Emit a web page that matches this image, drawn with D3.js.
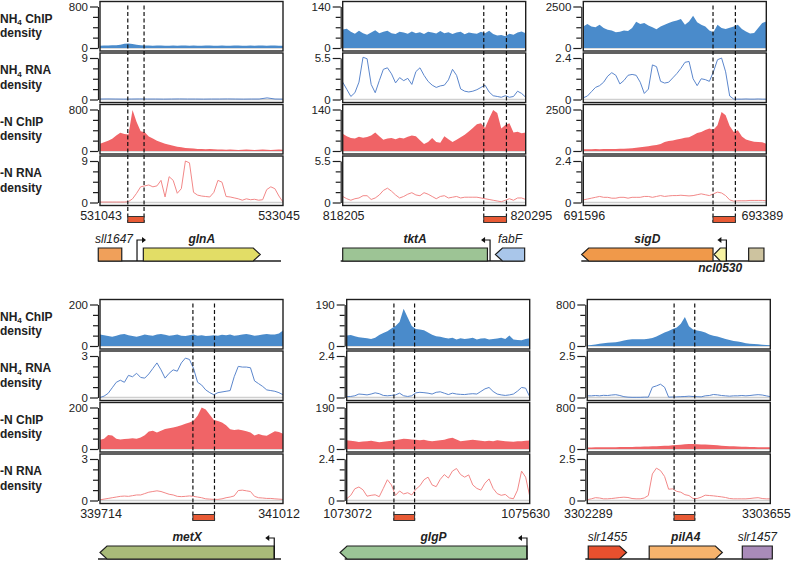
<!DOCTYPE html>
<html>
<head>
<meta charset="utf-8">
<script src="https://cdn.jsdelivr.net/npm/d3@7"></script>
<style>
  body { margin: 0; background: #fff; }
  svg text { font-family: Arial, "Liberation Sans", sans-serif; }
</style>
</head>
<body>
<div id="chart"></div>
<script>
// regions (genomic window, ChIP peak, axis maxima)
var regionNames = ["glnA", "tktA", "sigD", "metX", "glgP", "pilA4"];
var regionStart = [531043, 818205, 691596, 339714, 1073072, 3302289];
var regionEnd = [533045, 820295, 693389, 341012, 1075630, 3303655];
var peakStart = [531347, 819816, 692867, 340373, 1073732, 3302937];
var peakEnd = [531525, 820075, 693086, 340526, 1074021, 3303091];
var chipMax = [800, 140, 2500, 200, 190, 800];
var rnaMax = [9, 5.5, 2.4, 3, 2.4, 2.5];
var trackLabels = ["NH4 ChIP", "NH4 RNA", "-N ChIP", "-N RNA"];

// densities, evenly spaced across each window
var glnA_nh4Chip = [45,48,50,52,55,65,80,85,78,65,55,50,48,45,50,48,42,45,48,45,50,46,44,48,45,42,46,48,45,44,47,45,43,46,48,44,45,47,44,46,48,45,47,46,45,44];
var glnA_nh4Rna = [0.1,0.12,0.1,0.08,0.1,0.12,0.1,0.1,0.08,0.1,0.12,0.1,0.1,0.08,0.1,0.1,0.12,0.1,0.08,0.1,0.1,0.35,0.1,0.08];
var glnA_nChip = [140,170,200,235,300,350,330,320,790,560,380,360,280,240,200,170,140,120,100,80,70,60,55,50,40,40,35,40,35,30,30,25,30,25,20,25,30,25,20,25,30,25,20,25,30,25];
var glnA_nRna = [0.1,0.1,0.1,0.1,0.1,0.1,0.1,0.2,0.8,2.0,3.4,3.6,3.8,3.4,3.6,4.8,1.2,5.6,4.8,2.0,3.0,9.0,8.6,2.2,1.6,1.4,1.3,1.2,2.2,4.8,4.4,1.3,1.2,1.0,0.8,0.5,0.8,0.6,0.7,0.5,0.6,2.8,3.4,3.0,1.4,0.1];

var tktA_nh4Chip = [62,65,55,48,58,50,45,52,60,50,55,58,50,47,55,52,48,56,50,53,47,55,52,49,57,50,53,47,52,55,46,52,50,48,55,50,58,47,42,44,40,48,45,52,56,50];
var tktA_nh4Rna = [2.3,1.35,0.4,0.9,2.3,5.6,5.4,2.0,0.9,2.5,4.0,4.2,3.4,2.2,2.9,2.5,2.8,2.0,3.7,4.2,3.2,2.4,1.9,1.6,1.8,1.9,2.6,4.0,3.2,1.4,1.1,1.0,1.1,1.3,1.6,1.9,1.0,0.5,0.4,0.3,0.5,0.3,0.4,1.1,0.8,0.3];
var tktA_nChip = [58,50,44,42,48,45,47,52,62,50,38,42,44,40,45,42,48,52,50,36,24,30,44,30,28,50,40,30,38,46,55,66,78,90,94,78,110,138,128,76,88,94,62,65,60,62];
var tktA_nRna = [0.8,0.5,0.3,0.5,0.6,0.9,0.9,0.4,0.6,1.0,1.6,1.9,1.5,1.0,0.6,0.8,1.1,1.3,1.0,0.9,1.3,1.1,0.8,0.5,0.8,0.9,0.6,0.7,0.8,0.6,0.7,0.7,0.7,0.7,0.6,0.5,0.4,0.3,0.2,0.1,0.3,0.5,0.3,0.6,0.6,0.4];

var sigD_nh4Chip = [1300,1450,1300,1250,1400,1200,1100,1050,950,980,1050,1020,1200,1580,1450,1500,1350,1250,1130,1300,1400,1500,1600,1650,1750,1400,1600,1950,1550,1400,1300,1050,950,1400,1200,1150,1220,1300,1400,1150,1000,880,900,1200,1500,1600];
var sigD_nh4Rna = [0.1,0.2,0.45,0.7,0.8,1.0,1.35,1.55,1.4,0.9,1.1,1.4,1.45,1.4,1.0,0.35,0.6,2.0,1.9,1.05,0.95,1.0,1.25,1.5,1.8,2.15,2.2,1.2,0.8,1.2,1.15,1.05,1.6,2.3,2.4,1.6,0.2,0.02,0.02,0.02,0.03,0.02,0.02,0.03,0.02,0.02];
var sigD_nChip = [110,105,110,115,110,120,115,125,120,130,140,150,170,190,220,250,280,330,360,420,540,600,640,700,740,800,830,950,1080,1150,1260,1350,1280,1550,2350,2150,1500,1150,1250,880,700,620,560,540,520,430];
var sigD_nRna = [0.15,0.2,0.25,0.3,0.35,0.3,0.3,0.25,0.25,0.3,0.3,0.25,0.3,0.3,0.3,0.35,0.35,0.3,0.35,0.4,0.35,0.38,0.4,0.4,0.42,0.4,0.38,0.4,0.45,0.5,0.45,0.4,0.5,0.6,0.55,0.4,0.15,0.08,0.1,0.1,0.1,0.12,0.12,0.12,0.12,0.1];

var metX_nh4Chip = [55,52,48,45,50,55,58,52,48,45,50,55,52,50,55,58,54,50,52,55,50,48,52,55,50,52,48,50,52,50,54,52,55,50,52,55,58,54,50,52,55,58,56,55,60,75];
var metX_nh4Rna = [0.0,0.1,0.3,0.7,1.1,1.25,1.1,1.6,1.5,1.75,1.45,1.4,1.7,2.1,2.5,2.0,1.4,1.75,2.0,1.9,2.5,2.85,2.75,2.1,1.1,0.9,0.55,0.35,0.2,0.35,0.4,0.45,0.5,1.5,2.25,2.2,2.2,2.15,1.2,1.0,0.8,0.55,0.5,0.45,0.35,0.2];
var metX_nChip = [45,50,68,65,50,46,48,50,52,50,56,66,84,88,80,88,96,100,104,108,114,122,128,136,160,200,190,165,140,135,128,115,95,92,94,90,86,80,65,72,66,64,75,86,82,74];
var metX_nRna = [0.05,0.1,0.15,0.2,0.25,0.3,0.32,0.3,0.35,0.4,0.4,0.5,0.6,0.65,0.7,0.65,0.55,0.45,0.4,0.3,0.28,0.3,0.33,0.3,0.25,0.2,0.12,0.1,0.08,0.08,0.12,0.2,0.25,0.33,0.72,0.75,0.7,0.65,0.3,0.2,0.18,0.15,0.15,0.12,0.1,0.08];

var glgP_nh4Chip = [48,50,45,40,38,35,32,38,50,60,68,80,92,110,170,130,92,78,76,72,62,52,45,42,38,34,38,30,36,32,34,38,30,34,36,30,32,34,38,32,48,30,28,26,32,36];
var glgP_nh4Rna = [0.05,0.06,0.1,0.2,0.18,0.15,0.2,0.27,0.22,0.12,0.1,0.12,0.15,0.25,0.1,0.06,0.1,0.27,0.3,0.28,0.25,0.2,0.3,0.33,0.25,0.17,0.25,0.2,0.18,0.17,0.2,0.22,0.2,0.35,0.5,0.58,0.35,0.2,0.15,0.12,0.15,0.2,0.37,0.58,0.54,0.05];
var glgP_nChip = [40,38,36,32,34,36,38,34,31,33,35,38,40,44,47,46,44,42,40,42,38,36,38,40,42,48,51,44,36,38,40,42,40,38,36,38,36,40,38,36,34,33,35,36,38,39];
var glgP_nRna = [0.1,0.3,0.68,0.78,0.62,0.25,0.3,0.33,0.22,0.7,1.2,0.9,0.3,0.55,0.38,0.45,0.32,0.65,0.85,1.2,1.35,0.9,0.8,1.22,1.5,1.3,1.7,1.85,1.5,1.35,1.48,0.9,0.7,0.6,1.0,1.25,0.7,0.4,0.3,0.35,0.15,0.1,0.6,1.7,1.35,0.25];

var pilA4_nh4Chip = [10,20,30,45,55,62,68,72,85,105,120,130,128,128,132,140,155,185,220,260,290,330,355,430,560,380,320,300,285,260,220,200,185,160,135,115,95,85,70,55,45,38,32,25,18,14];
var pilA4_nh4Rna = [0.1,0.1,0.12,0.1,0.13,0.12,0.15,0.17,0.12,0.05,0.02,0.01,0.01,0.01,0.02,0.02,0.62,0.7,0.8,0.62,0.02,0.03,0.04,0.05,0.06,0.08,0.06,0.05,0.04,0.1,0.12,0.18,0.16,0.12,0.1,0.08,0.1,0.1,0.12,0.1,0.12,0.15,0.17,0.15,0.1,0.05];
var pilA4_nChip = [30,30,32,32,33,35,35,36,38,38,40,40,42,45,48,50,52,55,58,62,65,70,75,80,90,95,95,92,88,85,80,75,70,65,60,55,52,48,45,42,40,38,36,35,34,33];
var pilA4_nRna = [0.05,0.1,0.17,0.15,0.1,0.1,0.12,0.15,0.18,0.2,0.18,0.12,0.1,0.1,0.15,0.3,1.6,1.95,1.8,1.45,0.68,0.7,0.55,0.5,0.35,0.3,0.12,0.12,0.2,0.32,0.3,0.28,0.25,0.22,0.18,0.12,0.1,0.1,0.1,0.1,0.12,0.15,0.17,0.12,0.1,0.1];

// genes: name, start, end, strand (1 right, -1 left, 0 box)
var genesGlnA = [["sll1647", 531024, 531281, 0], ["glnA", 531517, 532796, 1]];
var genesTktA = [["tktA", 818205, 819858, 0], ["fabF", 819949, 820283, -1]];
var genesSigD = [["sigD", 691580, 692867, -1], ["ncl0530", 692877, 692998, -1], ["", 693216, 693366, 0]];
var genesMetX = [["metX", 339714, 340950, -1]];
var genesGlgP = [["glgP", 1072979, 1075592, -1]];
var genesPilA4 = [["slr1455", 3302296, 3302582, 1], ["pilA4", 3302751, 3303297, 1], ["slr1457", 3303446, 3303670, 0]];
var promoterPos = [531448, 819888, 692998, 340950, 1075592, null];
var promoterDir = [1, -1, -1, -1, -1, 0];

var tracks = [
  [glnA_nh4Chip, glnA_nh4Rna, glnA_nChip, glnA_nRna],
  [tktA_nh4Chip, tktA_nh4Rna, tktA_nChip, tktA_nRna],
  [sigD_nh4Chip, sigD_nh4Rna, sigD_nChip, sigD_nRna],
  [metX_nh4Chip, metX_nh4Rna, metX_nChip, metX_nRna],
  [glgP_nh4Chip, glgP_nh4Rna, glgP_nChip, glgP_nRna],
  [pilA4_nh4Chip, pilA4_nh4Rna, pilA4_nChip, pilA4_nRna]
];
var genes = [genesGlnA, genesTktA, genesSigD, genesMetX, genesGlgP, genesPilA4];

// layout
var groupTop = [1.5, 299.5];
var panelLeft = [[100, 342.7, 583.3], [100, 346.7, 587.3]];
var panelW = 183;
var trackPitch = 51.5, trackH = 49.5;
var trackColor = ["#4a8bcb", "#5b86cc", "#f06467", "#f28888"];
var geneColor = {
  "sll1647": "#f0a05a", "glnA": "#e2dd66", "tktA": "#9dc495", "fabF": "#a9c6ea",
  "sigD": "#f0994a", "ncl0530": "#f7f2a2", "": "#cdc39f", "metX": "#a9bb79",
  "glgP": "#9bc596", "slr1455": "#e8502e", "pilA4": "#f7b36c", "slr1457": "#a98bb9"
};
var plainGenes = ["sll1647", "fabF", "slr1455", "slr1457"];
var ink = "#1e1e1e";

var svg = d3.select("#chart").append("svg")
  .attr("width", 791)
  .attr("height", 562);

var defs = svg.append("defs");

// row labels
groupTop.forEach(function(top) {
  trackLabels.forEach(function(lab, t) {
    var c = top + t * trackPitch + trackH / 2;
    var txt = svg.append("text")
      .attr("x", 0)
      .attr("y", c - 3.5)
      .attr("font-size", "12px")
      .attr("font-weight", "bold")
      .attr("fill", "#222");
    if (lab.indexOf("NH4") === 0) {
      txt.append("tspan").text("NH");
      txt.append("tspan").attr("font-size", "8px").attr("dy", 2.5).text("4");
      txt.append("tspan").attr("dy", -2.5).text(lab.slice(3));
    } else {
      txt.text(lab);
    }
    svg.append("text")
      .attr("x", 0)
      .attr("y", c + 11)
      .attr("font-size", "12px")
      .attr("font-weight", "bold")
      .attr("fill", "#222")
      .text("density");
  });
});

regionNames.forEach(function(name, r) {
  var g = Math.floor(r / 3), col = r % 3;
  var top = groupTop[g], left = panelLeft[g][col];

  var x = d3.scaleLinear()
    .domain([regionStart[r], regionEnd[r]])
    .range([left, left + panelW]);

  tracks[r].forEach(function(vals, t) {
    var ty = top + t * trackPitch;
    var max = t % 2 === 0 ? chipMax[r] : rnaMax[r];
    var y = d3.scaleLinear()
      .domain([0, max])
      .range([ty + trackH - 3, ty + 5]);

    var step = (regionEnd[r] - regionStart[r]) / (vals.length - 1);
    var pts = vals.map(function(v, i) { return [regionStart[r] + i * step, v]; });

    var clipId = "clip-" + r + "-" + t;
    defs.append("clipPath").attr("id", clipId)
      .append("rect")
      .attr("x", left).attr("y", ty)
      .attr("width", panelW).attr("height", trackH);

    var plot = svg.append("g").attr("clip-path", "url(#" + clipId + ")");

    plot.append("line")
      .attr("x1", left).attr("x2", left + panelW)
      .attr("y1", y(0)).attr("y2", y(0))
      .attr("stroke", "#cfcfcf")
      .attr("stroke-width", 1.5);

    if (t % 2 === 0) {
      var area = d3.area()
        .x(d => x(d[0]))
        .y0(y(0))
        .y1(d => y(d[1]));
      plot.append("path")
        .datum(pts)
        .attr("d", area)
        .attr("fill", trackColor[t]);
    } else {
      var line = d3.line()
        .x(d => x(d[0]))
        .y(d => y(d[1]));
      plot.append("path")
        .datum(pts)
        .attr("d", line)
        .attr("fill", "none")
        .attr("stroke", trackColor[t])
        .attr("stroke-width", 1);
    }

    svg.append("rect")
      .attr("x", left).attr("y", ty)
      .attr("width", panelW).attr("height", trackH)
      .attr("fill", "none")
      .attr("stroke", ink)
      .attr("stroke-width", 1.4);

    // only the 0 and max ticks carry a label
    var axis = d3.axisLeft(y)
      .tickValues([0, max / 4, max / 2, 3 * max / 4, max])
      .tickSizeOuter(0)
      .tickSizeInner(8)
      .tickPadding(2)
      .tickFormat(d => d === 0 ? "0" : d === max ? String(max) : "");

    var ag = svg.append("g")
      .attr("transform", `translate(${left - 2},0)`)
      .call(axis);
    ag.select(".domain").attr("stroke", ink).attr("stroke-width", 1.2);
    ag.selectAll(".tick line")
      .attr("stroke", ink)
      .attr("stroke-width", 1.2)
      .attr("x2", d => (d === 0 || d === max) ? -8 : -5);
    ag.selectAll(".tick text")
      .filter(d => !(d === 0 || d === max))
      .remove();
    ag.selectAll(".tick text")
      .attr("font-size", "11.5px")
      .attr("font-family", "Arial, 'Liberation Sans', sans-serif")
      .attr("fill", "#222");
  });

  // peak window
  var barL = x(peakStart[r]), barR = x(peakEnd[r]);
  [barL, barR].forEach(function(px) {
    svg.append("line")
      .attr("x1", px).attr("x2", px)
      .attr("y1", top + 4).attr("y2", top + 221)
      .attr("stroke", "#111")
      .attr("stroke-width", 1.2)
      .attr("stroke-dasharray", "4,2.5");
  });
  svg.append("rect")
    .attr("x", barL)
    .attr("y", top + 215)
    .attr("width", barR - barL)
    .attr("height", 6)
    .attr("fill", "#e85a35")
    .attr("stroke", "#333")
    .attr("stroke-width", 1);

  // coordinate labels
  svg.append("text")
    .attr("x", x(regionStart[r]) + 1)
    .attr("y", top + 218)
    .attr("text-anchor", "middle")
    .attr("font-size", "12.5px")
    .attr("fill", "#222")
    .text(regionStart[r]);
  var endLab = svg.append("text")
    .attr("y", top + 218)
    .attr("text-anchor", "start")
    .attr("font-size", "12.5px")
    .attr("fill", "#222")
    .text(regionEnd[r]);
  var lw = endLab.node().getComputedTextLength();
  endLab.attr("x", Math.max(x(regionEnd[r]) - 4 - lw / 2, barR + 4));

  // gene track
  var gb = top + 259.5, gt = gb - 13, mid = (gb + gt) / 2;
  svg.append("line")
    .attr("x1", x(regionStart[r]) - 2).attr("x2", x(regionEnd[r]) - 2)
    .attr("y1", gb).attr("y2", gb)
    .attr("stroke", ink)
    .attr("stroke-width", 1.3);

  genes[r].forEach(function(gn) {
    var gname = gn[0], x1 = x(gn[1]), x2 = x(gn[2]), strand = gn[3];
    var head = Math.min(7, (x2 - x1) * 0.5);
    var poly;
    if (strand === 1) {
      poly = [[x1, gt], [x2 - head, gt], [x2, mid], [x2 - head, gb], [x1, gb]];
    } else if (strand === -1) {
      poly = [[x2, gt], [x1 + head, gt], [x1, mid], [x1 + head, gb], [x2, gb]];
    } else {
      poly = [[x1, gt], [x2, gt], [x2, gb], [x1, gb]];
    }
    svg.append("path")
      .attr("d", "M" + poly.join("L") + "Z")
      .attr("fill", geneColor[gname])
      .attr("stroke", ink)
      .attr("stroke-width", 1.2);

    if (gname) {
      var plain = plainGenes.indexOf(gname) >= 0;
      var cx = (x1 + x2) / 2;
      if (gname === "sll1647") cx += 4;
      svg.append("text")
        .attr("x", cx)
        .attr("y", gname === "ncl0530" ? gb + 11 : gt - 5)
        .attr("text-anchor", "middle")
        .attr("font-size", "12px")
        .attr("font-style", "italic")
        .attr("font-weight", plain ? "normal" : "bold")
        .attr("fill", "#222")
        .text(gname);
    }
  });

  if (promoterPos[r] !== null) {
    var px = x(promoterPos[r]), dir = promoterDir[r], py = gb - 21;
    svg.append("path")
      .attr("d", `M${px},${gb}V${py}H${px + dir * 6}`)
      .attr("fill", "none")
      .attr("stroke", "#111")
      .attr("stroke-width", 1.2);
    svg.append("path")
      .attr("d", `M${px + dir * 5},${py - 3}L${px + dir * 9},${py}L${px + dir * 5},${py + 3}Z`)
      .attr("fill", "#111");
  }
});
</script>
</body>
</html>
